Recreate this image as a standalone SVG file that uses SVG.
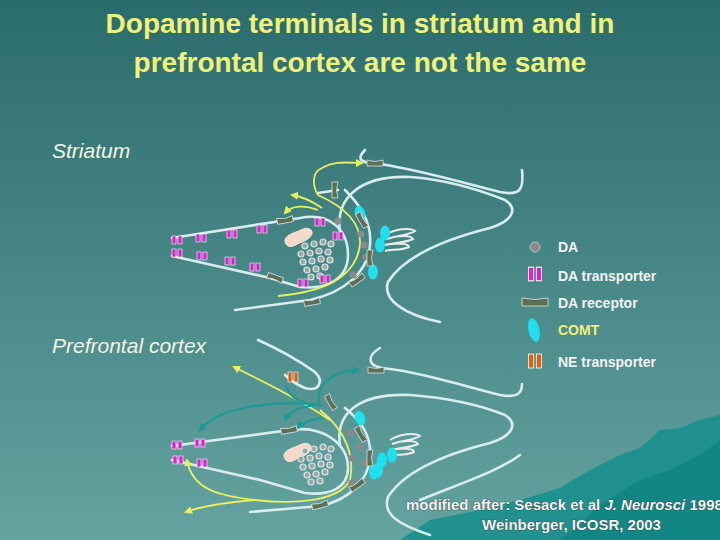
<svg xmlns="http://www.w3.org/2000/svg" width="720" height="540" viewBox="0 0 720 540">
<defs>
<linearGradient id="bg" x1="0" y1="0" x2="0" y2="1"><stop offset="0" stop-color="#2a6b6c"/><stop offset="1" stop-color="#64a3a0"/></linearGradient>
<marker id="ay" markerWidth="8" markerHeight="8" refX="6" refY="4" orient="auto" markerUnits="userSpaceOnUse"><path d="M0,0 L8,4 L0,8 z" fill="#e8f060"/></marker>
<marker id="at" markerWidth="8" markerHeight="8" refX="6" refY="4" orient="auto" markerUnits="userSpaceOnUse"><path d="M0,0 L8,4 L0,8 z" fill="#1a9a98"/></marker>
<g id="tr"><rect x="-5" y="-4" width="4" height="8" fill="#e020d0" stroke="#fff" stroke-width="0.6"/><rect x="1" y="-4" width="4" height="8" fill="#e020d0" stroke="#fff" stroke-width="0.6"/></g>
<g id="ne"><rect x="-5" y="-5" width="4" height="10" fill="#e06010" stroke="#fff" stroke-width="0.6"/><rect x="1" y="-5" width="4" height="10" fill="#e06010" stroke="#fff" stroke-width="0.6"/></g>
<path id="rc" d="M-8,-3 L-8,3 L8,3 L8,-3 Q0,0 -8,-3 z" fill="#5a7050" stroke="#dde" stroke-width="0.8"/>
<ellipse id="cm" rx="5" ry="7.5" fill="#20e0f0"/>
<circle id="da" r="3.6" fill="#8a8a88"/>
<g id="ves" fill="#9aa8a6" stroke="#dfe8e6" stroke-width="1.2">
<circle cx="0" cy="0" r="3"/><circle cx="9" cy="-2" r="3"/><circle cx="18" cy="-4" r="3"/><circle cx="26" cy="-2" r="3"/>
<circle cx="-4" cy="8" r="3"/><circle cx="5" cy="7" r="3"/><circle cx="14" cy="5" r="3"/><circle cx="23" cy="6" r="3"/>
<circle cx="-2" cy="16" r="3"/><circle cx="7" cy="15" r="3"/><circle cx="16" cy="13" r="3"/><circle cx="25" cy="14" r="3"/>
<circle cx="2" cy="24" r="3"/><circle cx="11" cy="23" r="3"/><circle cx="20" cy="21" r="3"/><circle cx="6" cy="31" r="3"/><circle cx="15" cy="30" r="3"/>
</g>
<g id="psd" fill="none" stroke="#e8ecea" stroke-width="2">
<path d="M0,0 C10,-6 25,-8 30,-4 C25,0 10,1 2,4 C12,0 26,0 28,4 C20,8 8,8 0,10 C10,8 24,8 24,12 C16,16 6,14 0,16"/>
</g>
<path id="mito" d="M-12,6 C-16,0 -8,-4 -2,-6 C4,-8 8,-12 13,-8 C17,-4 10,2 4,4 C-2,6 -8,12 -12,6 z" fill="#f4d8c8" stroke="#f8e8e0"/>
</defs>
<style>
.ln{fill:none;stroke:#d8ecee;stroke-width:2.6;stroke-linecap:round}
.y{fill:none;stroke:#e8f060;stroke-width:1.8}
.t{fill:none;stroke:#1a9a98;stroke-width:2.2}
.lg{font-family:"Liberation Sans",Arial,sans-serif;font-size:14px;font-weight:bold;fill:#f2f2f2}
.ft{font-family:"Liberation Sans",Arial,sans-serif;font-size:15px;font-weight:bold;fill:#f4f4f4;stroke:#333;stroke-width:0.7;paint-order:stroke}
</style>
<rect width="720" height="540" fill="url(#bg)"/>
<path d="M400,540 L430,520 L470,512 L520,500 L560,488 L590,470 L620,455 L640,448 L660,430 L680,428 L700,420 L720,415 L720,540 z" fill="#158e8c" opacity="0.85"/>
<path d="M560,540 L600,505 L640,480 L670,470 L700,455 L720,440 L720,540 z" fill="#0e8683" opacity="0.9"/>

<g id="title" font-family="Liberation Sans,Arial,sans-serif" font-size="28" font-weight="bold" fill="#f0f07a" text-anchor="middle">
<text x="360" y="33">Dopamine terminals in striatum and in</text>
<text x="360" y="72">prefrontal cortex are not the same</text>
</g>
<text x="52" y="158" font-family="Liberation Sans,Arial,sans-serif" font-size="21" font-style="italic" fill="#f4f4e0">Striatum</text>
<text x="52" y="353" font-family="Liberation Sans,Arial,sans-serif" font-size="21" font-style="italic" fill="#f4f4e0">Prefrontal cortex</text>

<g id="striatum">
<path class="ln" d="M172,238 L300,218 C330,212 348,230 348,255 C348,278 328,290 300,287 L270,278 L172,256"/>
<path class="ln" d="M235,310 L310,300 C345,292 368,272 370,245 C372,222 360,205 345,190"/>
<path class="ln" d="M318,193 L338,190"/>
<path class="ln" d="M340,232 C335,198 360,175 410,177 C450,180 480,190 505,200 C520,210 510,222 490,228 C450,238 405,255 388,282 C382,300 405,315 440,322"/>
<path class="ln" d="M365,150 C355,160 362,163 380,164 C420,170 460,182 500,192 C520,196 524,190 522,170"/>
<path class="y" d="M278,296 C320,292 355,280 360,245 C362,220 340,205 318,195 C312,185 312,172 322,168 C335,160 350,163 362,163" marker-end="url(#ay)"/>
<path class="y" d="M322,208 C310,200 300,196 292,195" marker-end="url(#ay)"/>
<path class="y" d="M318,210 C305,205 292,205 285,213" marker-end="url(#ay)"/>
<use href="#mito" x="298" y="238"/>
<use href="#ves" x="305" y="246"/>
<use href="#psd" x="385" y="235"/>
<use href="#da" x="338" y="221"/><use href="#da" x="361" y="234"/><use href="#da" x="364" y="245"/><use href="#da" x="366" y="257"/><use href="#da" x="353" y="275"/>
<use href="#cm" x="360" y="213" transform="rotate(-20 360 213)"/><use href="#cm" x="385" y="233"/><use href="#cm" x="380" y="245"/><use href="#cm" x="373" y="272"/>
<use href="#tr" x="177" y="240"/><use href="#tr" x="201" y="238"/><use href="#tr" x="232" y="234"/><use href="#tr" x="262" y="229"/><use href="#tr" x="320" y="222"/><use href="#tr" x="338" y="236"/>
<use href="#tr" x="177" y="253"/><use href="#tr" x="202" y="256"/><use href="#tr" x="230" y="261"/><use href="#tr" x="255" y="267"/><use href="#tr" x="303" y="283"/><use href="#tr" x="325" y="279"/>
<use href="#rc" x="375" y="163"/><use href="#rc" transform="translate(335,190) rotate(90)"/><use href="#rc" transform="translate(285,220) rotate(-10)"/><use href="#rc" transform="translate(362,220) rotate(60)"/><use href="#rc" transform="translate(370,258) rotate(90)"/><use href="#rc" transform="translate(357,280) rotate(-35)"/><use href="#rc" transform="translate(312,302) rotate(-10)"/><use href="#rc" transform="translate(275,278) rotate(200)"/>
</g>

<g id="prefrontal">
<path class="ln" d="M172,446 L290,430 C325,425 348,445 348,468 C348,488 330,496 305,493 L260,480 L172,460"/>
<path class="ln" d="M250,512 L320,506 C350,500 368,480 370,458 C372,435 360,420 345,408"/>
<path class="ln" d="M340,446 C335,412 360,393 410,395 C450,398 480,405 505,415 C520,425 510,437 490,443 C450,453 405,470 388,497 C382,515 400,525 430,535"/>
<path class="ln" d="M380,348 C368,355 366,365 382,368 C420,372 460,385 500,395 C518,398 522,393 522,384"/>
<path class="ln" d="M258,340 C285,352 305,365 315,372 C325,382 318,392 305,388 C295,384 290,380 285,375"/>
<path class="ln" d="M420,500 C470,480 500,470 520,455"/>
<use href="#ne" x="293" y="377"/>
<path class="y" d="M330,420 C300,400 270,385 234,367" marker-end="url(#ay)"/>
<path class="y" d="M320,410 C345,430 355,455 350,480 C340,500 300,505 255,500 C220,496 192,490 187,460" marker-end="url(#ay)"/>
<path class="y" d="M255,500 C230,502 205,505 186,512" marker-end="url(#ay)"/>
<path class="t" d="M320,405 C315,385 330,372 358,370" marker-end="url(#at)"/>
<path class="t" d="M286,385 C290,400 305,405 322,405"/>
<path class="t" d="M322,405 C280,400 220,405 200,430" marker-end="url(#at)"/>
<path class="t" d="M322,405 C305,405 290,410 285,420" marker-end="url(#at)"/>
<path class="t" d="M322,418 C310,420 302,423 298,428" marker-end="url(#at)"/>
<use href="#mito" x="297" y="453"/>
<use href="#ves" x="305" y="451"/>
<use href="#psd" x="390" y="440"/>
<use href="#da" x="350" y="433"/><use href="#da" x="360" y="447"/><use href="#da" x="352" y="458"/><use href="#da" x="364" y="463"/><use href="#da" x="352" y="483"/>
<use href="#cm" x="360" y="418" transform="rotate(-20 360 418)"/><use href="#cm" x="382" y="460"/><use href="#cm" x="378" y="470"/><use href="#cm" x="392" y="455"/><use href="#cm" x="374" y="472"/>
<use href="#tr" x="177" y="445"/><use href="#tr" x="200" y="443"/><use href="#tr" x="178" y="460"/><use href="#tr" x="202" y="463"/>
<use href="#rc" x="376" y="370"/><use href="#rc" transform="translate(331,402) rotate(60)"/><use href="#rc" transform="translate(289,430) rotate(-10)"/><use href="#rc" transform="translate(361,434) rotate(60)"/><use href="#rc" transform="translate(370,458) rotate(90)"/><use href="#rc" transform="translate(357,485) rotate(-35)"/><use href="#rc" transform="translate(320,505) rotate(-15)"/>
</g>

<g id="legend">
<circle cx="535" cy="247" r="5" fill="#8a8a88" stroke="#ccc" stroke-width="0.8"/>
<use href="#tr" transform="translate(535,274) scale(1.3,1.7)"/>
<path d="M522,298 L522,306 L548,306 L548,298 Q535,301 522,298 z" fill="#5a7050" stroke="#dde" stroke-width="0.8"/>
<ellipse cx="534" cy="330" rx="5.5" ry="12" fill="#20e0f0" transform="rotate(-12 534 330)"/>
<use href="#ne" transform="translate(535,361) scale(1.3,1.4)"/>
<text class="lg" x="558" y="252">DA</text>
<text class="lg" x="558" y="281">DA transporter</text>
<text class="lg" x="558" y="308">DA receptor</text>
<text class="lg" x="558" y="335" style="fill:#eef07a">COMT</text>
<text class="lg" x="558" y="367">NE transporter</text>
</g>
<g id="footer">
<text class="ft" x="406" y="510">modified after:  Sesack et al <tspan font-style="italic">J. Neurosci</tspan> 1998</text>
<text class="ft" x="482" y="530">Weinberger, ICOSR, 2003</text>
</g>
</svg>
